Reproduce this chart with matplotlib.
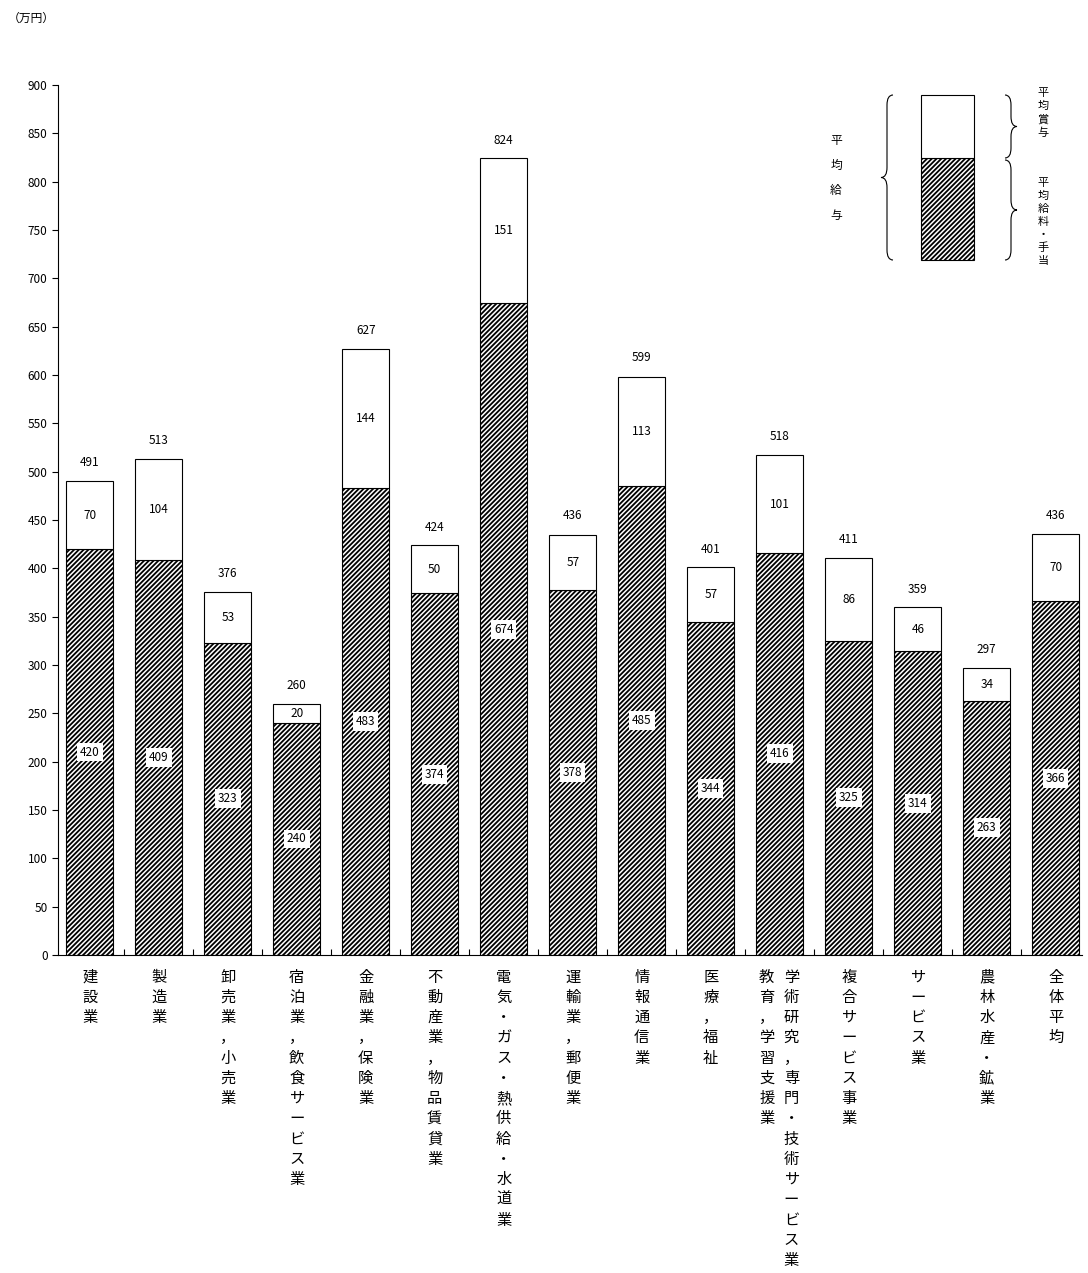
import matplotlib.pyplot as plt
from matplotlib.patches import Rectangle, PathPatch
from matplotlib.path import Path

plt.rcParams['font.family'] = ['Noto Sans CJK JP', 'DejaVu Sans']
plt.rcParams['hatch.linewidth'] = 1.3

categories = [["建設業"], ["製造業"], ["卸売業，小売業"], ["宿泊業，飲食サービス業"],
              ["金融業，保険業"], ["不動産業，物品賃貸業"], ["電気・ガス・熱供給・水道業"],
              ["運輸業，郵便業"], ["情報通信業"], ["医療，福祉"],
              ["学術研究，専門・技術サービス業", "教育，学習支援業"], ["複合サービス事業"],
              ["サービス業"], ["農林水産・鉱業"], ["全体平均"]]
salary = [420, 409, 323, 240, 483, 374, 674, 378, 485, 344, 416, 325, 314, 263, 366]
bonus = [70, 104, 53, 20, 144, 50, 151, 57, 113, 57, 101, 86, 46, 34, 70]
totals = [491, 513, 376, 260, 627, 424, 824, 436, 599, 401, 518, 411, 359, 297, 436]

fig = plt.figure(figsize=(10.88, 12.73), dpi=100)
ax = fig.add_axes([58/1088, 318/1273, 1024/1088, 870/1273])
x = list(range(len(salary)))
w = 0.68
ax.bar(x, salary, w, color='white', edgecolor='black', hatch='///////', linewidth=0.8)
ax.bar(x, bonus, w, bottom=salary, color='white', edgecolor='black', linewidth=0.8)

box = dict(boxstyle='square,pad=0.25', fc='white', ec='none')
for i in x:
    ax.text(i, salary[i] / 2, str(salary[i]), ha='center', va='center', fontsize=8.5, bbox=box)
    ax.text(i, salary[i] + bonus[i] / 2, str(bonus[i]), ha='center', va='center', fontsize=8.5)
    ax.text(i, totals[i] + 12, str(totals[i]), ha='center', va='bottom', fontsize=8.5)
    cols = categories[i]
    offs = [0] if len(cols) == 1 else [0.17, -0.19]
    for c, o in zip(cols, offs):
        ax.text(i + o, -14, "\n".join(c), ha='center', va='top', fontsize=11,
                linespacing=1.25)

ax.set_xlim(-0.46, 14.38)
ax.set_ylim(0, 900)
ax.set_yticks(range(0, 901, 50))
ax.tick_params(axis='y', labelsize=8.5, length=4)
ax.set_xticks([i + 0.5 for i in x[:-1]])
ax.set_xticklabels([])
ax.tick_params(axis='x', length=4, direction='in')
for s in ['top', 'right']:
    ax.spines[s].set_visible(False)
ax.spines['left'].set_linewidth(0.8)
ax.spines['bottom'].set_linewidth(0.8)
fig.text(8/1088, 1 - 18/1273, "（万円）", fontsize=8.5, va='center')

# legend (figure pixel coords)
H = 1273
def fy(y):
    return 1 - y / H
def fx(xp):
    return xp / 1088
fig.patches.append(Rectangle((fx(921), fy(260)), fx(974) - fx(921), fy(158) - fy(260),
                             transform=fig.transFigure, fc='white', ec='black', hatch='///////', lw=0.8))
fig.patches.append(Rectangle((fx(921), fy(158)), fx(974) - fx(921), fy(95) - fy(158),
                             transform=fig.transFigure, fc='white', ec='black', lw=0.8))

def brace(xp, y0, y1, d):
    ym = (y0 + y1) / 2
    pts = [(xp, y0), (xp - d, y0), (xp - d, y0 + 10), (xp - d, ym - 10),
           (xp - d, ym), (xp - 2 * d, ym), (xp - d, ym), (xp - d, ym + 10),
           (xp - d, y1 - 10), (xp - d, y1), (xp, y1)]
    verts = [(fx(a), fy(b)) for a, b in pts]
    codes = [Path.MOVETO, Path.CURVE3, Path.CURVE3, Path.LINETO, Path.CURVE3, Path.CURVE3,
             Path.CURVE3, Path.CURVE3, Path.LINETO, Path.CURVE3, Path.CURVE3]
    fig.patches.append(PathPatch(Path(verts, codes), transform=fig.transFigure,
                                 fc='none', ec='black', lw=0.8))

brace(893, 95, 260, 6)
brace(1005, 95, 158, -6)
brace(1005, 160, 260, -6)
fig.text(fx(836), fy(178), "\n".join("平均給与"), ha='center', va='center', fontsize=8.5, linespacing=2.2)
fig.text(fx(1043), fy(113), "\n".join("平均賞与"), ha='center', va='center', fontsize=8, linespacing=1.35)
fig.text(fx(1043), fy(222), "\n".join("平均給料・手当"), ha='center', va='center', fontsize=8, linespacing=1.35)

fig.savefig('out.png', dpi=100)
